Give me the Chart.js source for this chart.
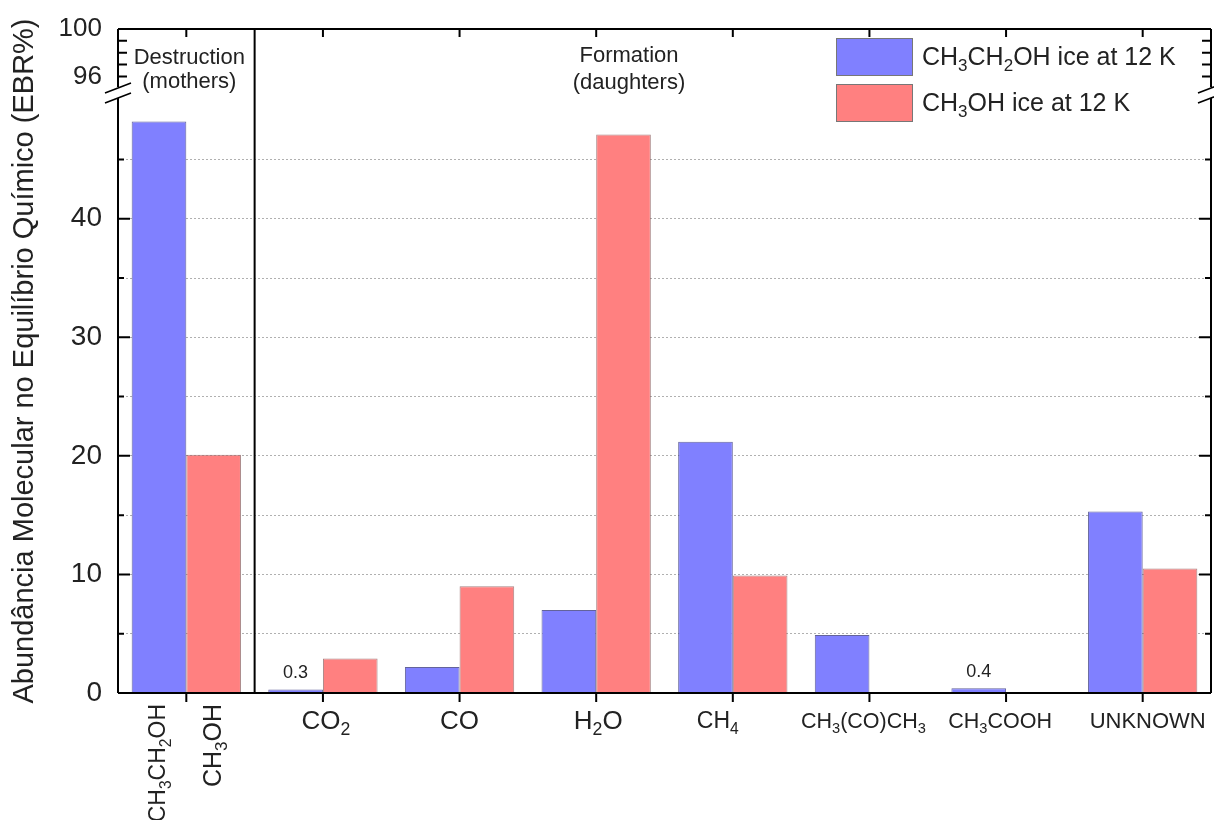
<!DOCTYPE html>
<html>
<head>
<meta charset="utf-8">
<script src="https://cdn.jsdelivr.net/npm/chart.js@4"></script>
<style>
  body { margin: 0; background: #fff; }
  #box { width: 1214px; height: 820px; }
</style>
</head>
<body>
<div id="box"><canvas id="ebr"></canvas></div>
<script>
// categories on the x axis ("_n" = subscript)
let categories   = ['mothers', 'CO_2', 'CO', 'H_2O', 'CH_4', 'CH_3(CO)CH_3', 'CH_3COOH', 'UNKNOWN'];
let motherLabels = ['CH_3CH_2OH', 'CH_3OH'];
let seriesNames  = ['CH_3CH_2OH ice at 12 K', 'CH_3OH ice at 12 K'];
// values (EBR %)
let ethanolIce   = [48.2, 0.3, 2.2, 7.0, 21.2, 4.9, 0.4, 15.3];
let methanolIce  = [20.1, 2.9, 9.0, 47.1, 9.9, 0, 0, 10.5];
// small value labels: [category index, dataset index, text]
let smallLabels  = [[1, 0, '0.3'], [6, 0, '0.4']];
// y ticks: lower part is real, upper part sits above the break
let yTickValues  = [0, 10, 20, 30, 40];
let yUpperTicks  = [96, 100];
let breakShift   = 44;   // upper values are drawn at (value - breakShift)

const FONT = '"Liberation Sans", Arial, sans-serif';
const BLUE = 'rgba(128,128,255,1)';
const RED  = 'rgba(255,128,128,1)';

// draws text with "_x" subscripts
function chemWidth(ctx, txt, size){
    let w = 0;
    txt.split(/(_[0-9])/).forEach(p => {
        if (!p) return;
        if (p[0] === '_') { ctx.font = (size*0.68) + 'px ' + FONT; w += ctx.measureText(p.slice(1)).width; }
        else { ctx.font = size + 'px ' + FONT; w += ctx.measureText(p).width; }
    });
    return w;
}
function drawChem(ctx, txt, x, y, size, align){
    let w = chemWidth(ctx, txt, size);
    let cx = x;
    if (align === 'center') cx = x - w/2;
    if (align === 'right')  cx = x - w;
    ctx.textAlign = 'left';
    ctx.textBaseline = 'middle';
    txt.split(/(_[0-9])/).forEach(p => {
        if (!p) return;
        if (p[0] === '_') {
            ctx.font = (size*0.68) + 'px ' + FONT;
            ctx.fillText(p.slice(1), cx, y + size*0.33);
            cx += ctx.measureText(p.slice(1)).width;
        } else {
            ctx.font = size + 'px ' + FONT;
            ctx.fillText(p, cx, y);
            cx += ctx.measureText(p).width;
        }
    });
}

const extras = {
    id: 'extras',
    afterDraw(chart){
        const ctx = chart.ctx;
        const a = chart.chartArea;
        const xs = chart.scales.x, ys = chart.scales.y;
        const breakY = ys.getPixelForValue(50.6);
        ctx.save();
        ctx.strokeStyle = '#000';
        ctx.fillStyle = '#222';

        // frame with the axis break on both sides
        ctx.lineWidth = 2;
        ctx.beginPath();
        ctx.moveTo(a.left, a.top); ctx.lineTo(a.right, a.top);
        ctx.moveTo(a.left, a.bottom); ctx.lineTo(a.right, a.bottom);
        [a.left, a.right].forEach(x => {
            ctx.moveTo(x, a.top); ctx.lineTo(x, breakY - 6);
            ctx.moveTo(x, breakY + 5); ctx.lineTo(x, a.bottom);
        });
        ctx.stroke();
        ctx.lineWidth = 1.6;
        ctx.beginPath();
        [a.left, a.right].forEach(x => {
            [-5, 5].forEach(d => {
                ctx.moveTo(x - 13, breakY + d + 5);
                ctx.lineTo(x + 13, breakY + d - 5);
            });
        });
        ctx.stroke();

        // y tick marks, pointing inwards
        ctx.lineWidth = 2;
        ctx.beginPath();
        ys.ticks.forEach(t => {
            const y = ys.getPixelForValue(t.value);
            let len = (t.value > 50) ? 9 : (t.value % 10 === 0 ? 12 : 6);
            ctx.moveTo(a.left, y); ctx.lineTo(a.left + len, y);
            ctx.moveTo(a.right, y); ctx.lineTo(a.right - len, y);
        });
        // x tick marks: top inwards, bottom outwards
        categories.forEach((c, i) => {
            const x = xs.getPixelForValue(i);
            ctx.moveTo(x, a.top); ctx.lineTo(x, a.top + 8);
            ctx.moveTo(x, a.bottom); ctx.lineTo(x, a.bottom + 9);
        });
        ctx.stroke();

        // separator between destruction and formation
        const sepX = (xs.getPixelForValue(0) + xs.getPixelForValue(1)) / 2;
        ctx.beginPath();
        ctx.moveTo(sepX, a.top); ctx.lineTo(sepX, a.bottom);
        ctx.stroke();

        // group captions
        ctx.font = '22px ' + FONT;
        ctx.textAlign = 'center';
        ctx.textBaseline = 'middle';
        ctx.fillText('Destruction', xs.getPixelForValue(0) + 3, 58);
        ctx.fillText('(mothers)', xs.getPixelForValue(0) + 3, 82);
        ctx.fillText('Formation', 629, 56);
        ctx.fillText('(daughters)', 629, 83);

        // small value labels above tiny bars
        ctx.font = '18px ' + FONT;
        smallLabels.forEach(([i, d, txt]) => {
            const bar = chart.getDatasetMeta(d).data[i];
            ctx.fillText(txt, bar.x, bar.y - 16);
        });

        // x category labels (size, horizontal nudge)
        const look = {'CO_2': [26, 3], 'CO': [26, 0], 'H_2O': [26, 2], 'CH_4': [23, -15],
                      'CH_3(CO)CH_3': [21.5, -6], 'CH_3COOH': [21.5, -6], 'UNKNOWN': [22, 5]};
        categories.forEach((c, i) => {
            if (i === 0) return;
            const [size, dx] = look[c];
            drawChem(ctx, c, xs.getPixelForValue(i) + dx, 722, size, 'center');
        });
        // rotated labels under the two mother bars
        const motherSizes = [23, 25];
        motherLabels.forEach((lab, d) => {
            const bar = chart.getDatasetMeta(d).data[0];
            ctx.save();
            ctx.translate(bar.x, 704);
            ctx.rotate(-Math.PI/2);
            drawChem(ctx, lab, 0, 0, motherSizes[d], 'right');
            ctx.restore();
        });

        // legend
        const legColors = [BLUE, RED];
        seriesNames.forEach((name, d) => {
            const top = 38 + d * 46;
            ctx.fillStyle = legColors[d];
            ctx.fillRect(836, top, 76, 37);
            ctx.strokeStyle = '#777';
            ctx.lineWidth = 1;
            ctx.strokeRect(836.5, top + 0.5, 76, 37);
            ctx.fillStyle = '#222';
            drawChem(ctx, name, 922, top + 20, 25, 'left');
        });
        ctx.restore();
    }
};

const chart = new Chart(document.getElementById('ebr'), {
    type: 'bar',
    data: {
        labels: categories,
        datasets: [
            {
                label: 'CH3CH2OH ice at 12 K',
                data: ethanolIce,
                backgroundColor: BLUE,
                borderColor: 'rgba(60,60,130,0.8)',
                borderWidth: 1
            },
            {
                label: 'CH3OH ice at 12 K',
                data: methanolIce,
                backgroundColor: RED,
                borderColor: 'rgba(130,80,80,0.7)',
                borderWidth: 1
            }
        ]
    },
    options: {
        responsive: true,
        maintainAspectRatio: false,
        animation: false,
        layout: { padding: { top: 29, right: 3, left: 0, bottom: 0 } },
        datasets: { bar: { categoryPercentage: 0.8, barPercentage: 1.0 } },
        plugins: { legend: { display: false }, tooltip: { enabled: false } },
        scales: {
            x: {
                grid: { display: false },
                border: { display: false },
                ticks: { display: false },
                afterFit: s => { s.height = 127; }
            },
            y: {
                min: 0,
                max: 56,
                afterBuildTicks: s => {
                    let t = [];
                    for (let v = 0; v <= 45; v += 5) t.push({ value: v });
                    for (let v = yUpperTicks[0]; v <= yUpperTicks[1]; v++) t.push({ value: v - breakShift });
                    s.ticks = t;
                },
                afterFit: s => { s.width = 118; s.paddingTop = 0; s.paddingBottom = 0; },
                // in v4 the border dash is also used for the grid lines
                border: { display: false, dash: [2, 2] },
                grid: {
                    drawTicks: false,
                    color: c => (c.tick && c.tick.value > 0 && c.tick.value <= 45) ? '#b0b0b0' : 'rgba(0,0,0,0)',
                    lineWidth: 1
                },
                ticks: {
                    padding: 16,
                    color: '#222',
                    font: c => ({ family: FONT, size: (c.tick && c.tick.value > 50) ? 26 : 28 }),
                    callback: v => {
                        if (yTickValues.includes(v)) return String(v);
                        if (yUpperTicks.includes(v + breakShift)) return String(v + breakShift);
                        return '';
                    }
                },
                title: {
                    display: true,
                    text: 'Abundância Molecular no Equilíbrio Químico (EBR%)',
                    color: '#222',
                    font: { family: FONT, size: 29 },
                    padding: { top: 8, bottom: 0 }
                }
            }
        }
    },
    plugins: [extras]
});
</script>
</body>
</html>
